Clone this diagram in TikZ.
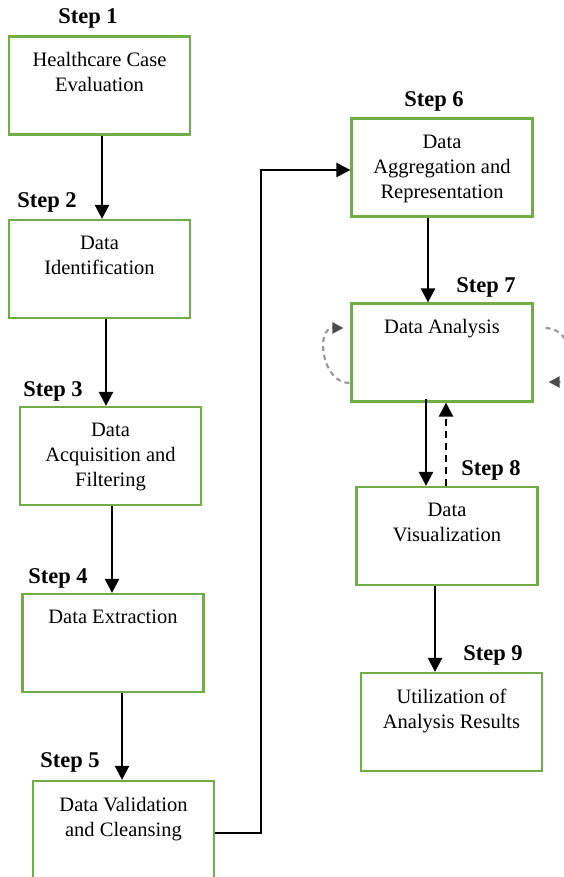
\documentclass[tikz,border=0pt]{standalone}
\usepackage{fontspec}
\setmainfont{Liberation Serif}
\usetikzlibrary{positioning,arrows.meta}
\definecolor{boxgreen}{RGB}{112,173,71}
\tikzset{
  stepbox/.style={draw=boxgreen, line width=2.2pt, minimum width=181pt, minimum height=98pt, inner sep=0pt},
  boxtext/.style={align=center, inner sep=0pt, font=\fontsize{20.5}{25}\selectfont},
  steplabel/.style={inner sep=0pt, font=\fontsize{22.5}{26}\selectfont\bfseries},
  flow/.style={line width=2.4pt, -{Triangle[width=14pt,length=14pt]}},
  back/.style={line width=2.4pt, dash pattern=on 7pt off 5pt, -{Triangle[width=14pt,length=14pt]}},
  selfloop/.style={gray!80, line width=2.2pt, dash pattern=on 5pt off 4pt, -{Triangle[width=11pt,length=11pt,color=black!70]}}
}
\begin{document}
\begin{tikzpicture}[x=1pt,y=-1pt]
  \useasboundingbox (0,0) rectangle (564,877);
  % boxes
  \node[stepbox] (b1) at (99.5,85.5) {};
  \node[stepbox] (b2) at (99.5,269) {};
  \node[stepbox] (b3) at (110.5,456) {};
  \node[stepbox] (b4) at (113,643) {};
  \node[stepbox] (b5) at (123.5,830) {};
  \node[stepbox] (b6) at (442,167.5) {};
  \node[stepbox] (b7) at (442,352.5) {};
  \node[stepbox] (b8) at (447,536) {};
  \node[stepbox] (b9) at (451.5,722) {};
  % texts
  \node[boxtext, below=17pt of b1.north] (t1) {Healthcare Case\\Evaluation};
  \node[boxtext, below=17pt of b2.north] (t2) {Data\\Identification};
  \node[boxtext, below=17pt of b3.north] (t3) {Data\\Acquisition and\\Filtering};
  \node[boxtext, below=17pt of b4.north] (t4) {Data Extraction};
  \node[boxtext, below=17pt of b5.north] (t5) {Data Validation\\and Cleansing};
  \node[boxtext, below=17pt of b6.north] (t6) {Data\\Aggregation and\\Representation};
  \node[boxtext, below=17pt of b7.north] (t7) {Data Analysis};
  \node[boxtext, below=17pt of b8.north] (t8) {Data\\Visualization};
  \node[boxtext, below=17pt of b9.north] (t9) {Utilization of\\Analysis Results};
  % step labels
  \node[steplabel] (s1) at (88,18) {Step 1};
  \node[steplabel] (s2) at (47,202) {Step 2};
  \node[steplabel] (s3) at (53,391) {Step 3};
  \node[steplabel] (s4) at (58,578) {Step 4};
  \node[steplabel] (s5) at (70,762) {Step 5};
  \node[steplabel] (s6) at (434,101) {Step 6};
  \node[steplabel] (s7) at (486,287) {Step 7};
  \node[steplabel] (s8) at (491,470) {Step 8};
  \node[steplabel] (s9) at (493,655) {Step 9};
  % arrows
  \draw[flow] ([xshift=2.5pt]b1.south) -- ([xshift=2.5pt]b2.north);
  \draw[flow] ([xshift=6.5pt]b2.south) -- ([xshift=-4.5pt]b3.north);
  \draw[flow] ([xshift=1.5pt]b3.south) -- ([xshift=-1pt]b4.north);
  \draw[flow] ([xshift=9pt]b4.south) -- ([xshift=-1.5pt]b5.north);
  \draw[flow] ([yshift=-3pt]b5.east) -- ++(46,0) |- ([yshift=-2.5pt]b6.west);
  \draw[flow] ([xshift=-14pt]b6.south) -- ([xshift=-14pt]b7.north);
  \draw[flow] ([xshift=-16pt,yshift=4pt]b7.south) -- ([xshift=-21pt]b8.north);
  \draw[back] ([xshift=-1pt]b8.north) -- ([xshift=4pt]b7.south);
  \draw[flow] ([xshift=-12pt]b8.south) -- ([xshift=-16.5pt]b9.north);
  % loops round step 7
  \draw[selfloop] ([shift={(-1pt,-30.5pt)}]b7.west) .. controls +(-28,0) and +(-28,0) .. ([shift={(-7pt,24.5pt)}]b7.west);
  \draw[selfloop] ([shift={(12pt,24.5pt)}]b7.east) .. controls +(30,0) and +(30,0) .. ([shift={(15pt,-29.5pt)}]b7.east);
\end{tikzpicture}
\end{document}
